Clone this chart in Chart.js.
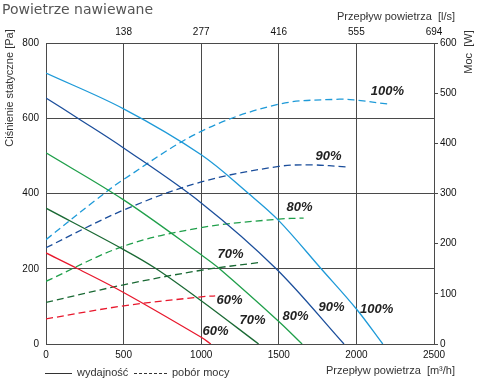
<!DOCTYPE html>
<html>
<head>
<meta charset="utf-8">
<script src="https://cdn.jsdelivr.net/npm/chart.js@4.4.1/dist/chart.umd.min.js"></script>
<style>
  html, body { margin: 0; padding: 0; background: #fff; }
  #wrap { width: 480px; height: 380px; }
</style>
</head>
<body>
<div id="wrap"><canvas id="c" width="480" height="380"></canvas></div>
<script>
// Powietrze nawiewane — fan curves (pressure + power vs. airflow)

// ---- data ----
const bottomTicks = [0, 500, 1000, 1500, 2000, 2500];          // m3/h
const topTickLabels = ["", "138", "277", "416", "555", "694"];  // l/s

// static pressure [Pa] (solid)
const flowP100 = [0, 500, 1000, 1305, 1500, 1773, 2000, 2170];
const pa100    = [720, 625, 503, 400, 328, 200, 93, 0];
const flowP90  = [0, 205, 500, 1000, 1483, 1920];
const pa90     = [654, 600, 521, 375, 200, 0];
const flowP80  = [0, 500, 1000, 1118, 1500, 1650];
const pa80     = [508, 383, 237, 200, 60, 0];
const flowP70  = [0, 500, 710, 1000, 1370];
const pa70     = [361, 251, 200, 115, 0];
const flowP60  = [0, 205, 500, 1000, 1062];
const pa60     = [242, 200, 137, 18, 0];

// power [W] (dashed)
const flowW100 = [0, 312, 500, 1000, 1500, 1890, 2000, 2210];
const w100     = [208, 285, 328, 424, 478, 488, 486, 478];
const flowW90  = [0, 500, 1000, 1500, 1720, 1930];
const w90      = [192, 267, 323, 354, 357, 353];
const flowW80  = [0, 500, 1000, 1500, 1660];
const w80      = [125, 195, 232, 249, 251];
const flowW70  = [0, 500, 1000, 1390];
const w70      = [83, 118, 147, 163];
const flowW60  = [0, 500, 1000, 1090];
const w60      = [50, 76, 94, 96];

// percent labels (flow m3/h, pressure Pa)
const tagText = ["100%", "90%", "80%", "70%", "60%", "60%", "70%", "80%", "90%", "100%"];
const tagFlow = [2200, 1820, 1633, 1189, 1182, 1092, 1331, 1608, 1840, 2130];
const tagPa   = [671, 498, 362, 237, 115, 33, 62, 73, 96, 91];

const C100 = "#1e9ad8", C90 = "#1b4e9b", C80 = "#1f9f4a", C70 = "#1a6934", C60 = "#e8182d";
const GRID = "#4a4a4a";
const TICK_FONT = { family: "'Liberation Sans', Arial, sans-serif", size: 10 };

const pts = (xs, ys) => xs.map((x, i) => ({ x, y: ys[i] }));

function solid(xs, ys, color) {
  return { data: pts(xs, ys), borderColor: color, borderWidth: 1.3, pointRadius: 0,
    tension: 0.35, yAxisID: "y", xAxisID: "x", fill: false };
}
function dashed(xs, ys, color) {
  return { data: pts(xs, ys), borderColor: color, borderWidth: 1.3, borderDash: [7, 4],
    pointRadius: 0, tension: 0.35, yAxisID: "y2", xAxisID: "x", fill: false };
}

// ---- text drawn around the plot ----
const textPlugin = {
  id: "texts",
  afterDraw(chart) {
    const ctx = chart.ctx;
    const sx = chart.scales.x, sy = chart.scales.y;
    ctx.save();

    ctx.fillStyle = "#555";
    ctx.font = "14px 'DejaVu Sans', Verdana, sans-serif";
    ctx.textAlign = "left"; ctx.textBaseline = "middle";
    ctx.fillText("Powietrze nawiewane", 2, 10);

    ctx.fillStyle = "#333";
    ctx.font = "11px 'Liberation Sans', Arial, sans-serif";
    ctx.textAlign = "right";
    ctx.fillText("Przepływ powietrza  [l/s]", 455, 17);
    ctx.fillText("Przepływ powietrza  [m³/h]", 455, 371);

    ctx.save();
    ctx.translate(10, 88); ctx.rotate(-Math.PI / 2); ctx.textAlign = "center";
    ctx.fillText("Ciśnienie statyczne [Pa]", 0, 0);
    ctx.restore();
    ctx.save();
    ctx.translate(469, 52); ctx.rotate(-Math.PI / 2); ctx.textAlign = "center";
    ctx.fillText("Moc  [W]", 0, 0);
    ctx.restore();

    // legend
    ctx.strokeStyle = "#333"; ctx.lineWidth = 1;
    ctx.beginPath(); ctx.moveTo(45, 373.5); ctx.lineTo(72, 373.5); ctx.stroke();
    ctx.setLineDash([3, 2]);
    ctx.beginPath(); ctx.moveTo(134, 373.5); ctx.lineTo(167, 373.5); ctx.stroke();
    ctx.setLineDash([]);
    ctx.textAlign = "left";
    ctx.fillText("wydajność", 77, 373);
    ctx.fillText("pobór mocy", 172, 373);

    // percent tags
    ctx.fillStyle = "#222";
    ctx.font = "italic bold 13px 'Liberation Sans', Arial, sans-serif";
    ctx.textAlign = "center";
    tagText.forEach((t, i) => {
      ctx.fillText(t, sx.getPixelForValue(tagFlow[i]), sy.getPixelForValue(tagPa[i]));
    });
    ctx.restore();
  },
};

new Chart(document.getElementById("c"), {
  type: "line",
  data: {
    datasets: [
      solid(flowP100, pa100, C100), solid(flowP90, pa90, C90), solid(flowP80, pa80, C80),
      solid(flowP70, pa70, C70), solid(flowP60, pa60, C60),
      dashed(flowW100, w100, C100), dashed(flowW90, w90, C90), dashed(flowW80, w80, C80),
      dashed(flowW70, w70, C70), dashed(flowW60, w60, C60),
    ],
  },
  options: {
    responsive: false, animation: false,
    layout: { padding: 0 },
    plugins: { legend: { display: false }, tooltip: { enabled: false } },
    scales: {
      x: {
        type: "linear", position: "bottom", min: 0, max: 2500,
        afterBuildTicks: (s) => { s.ticks = bottomTicks.map((v) => ({ value: v })); },
        afterFit: (s) => { s.height = 36; },
        grid: { color: GRID, lineWidth: 1, drawTicks: false },
        border: { display: true, color: GRID },
        ticks: { color: "#111", font: TICK_FONT, padding: 5, maxRotation: 0,
          callback: (v) => String(v) },
      },
      x2: {
        type: "linear", position: "top", min: 0, max: 2500,
        afterBuildTicks: (s) => { s.ticks = bottomTicks.map((v) => ({ value: v })); },
        afterFit: (s) => { s.height = 43; },
        grid: { display: false, drawTicks: false },
        border: { display: true, color: GRID },
        ticks: { color: "#111", font: TICK_FONT, padding: 5, maxRotation: 0,
          callback: (v, i) => topTickLabels[i] },
      },
      y: {
        type: "linear", position: "left", min: 0, max: 800,
        ticks: { stepSize: 200, color: "#111", font: TICK_FONT, padding: 7 },
        afterFit: (s) => { s.width = 46; },
        grid: { color: GRID, lineWidth: 1, drawTicks: false },
        border: { display: true, color: GRID },
      },
      y2: {
        type: "linear", position: "right", min: 0, max: 600,
        ticks: { stepSize: 100, color: "#111", font: TICK_FONT, padding: 2 },
        afterFit: (s) => { s.width = 46; },
        grid: { drawOnChartArea: false, color: GRID, tickLength: 4 },
        border: { display: true, color: GRID },
      },
    },
  },
  plugins: [textPlugin],
});
</script>
</body>
</html>
